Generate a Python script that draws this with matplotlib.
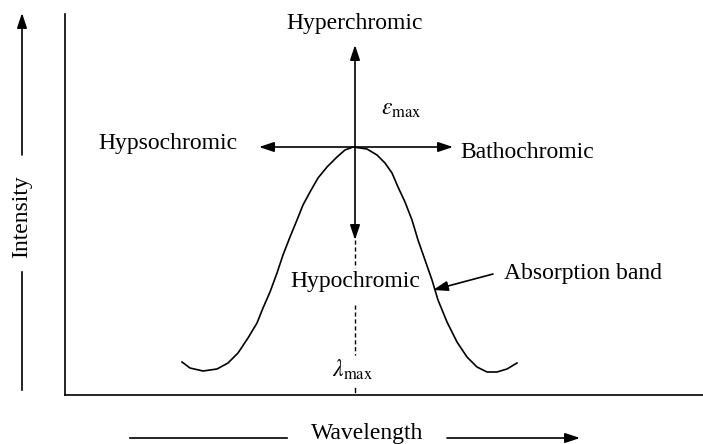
import numpy as np
import matplotlib
matplotlib.use("Agg")
import matplotlib.pyplot as plt

plt.rcParams['font.family'] = ['Liberation Serif', 'DejaVu Serif']
plt.rcParams['mathtext.fontset'] = 'stix'

# absorption band (arbitrary units)
wl = [117, 125, 138, 152, 163, 173, 183, 192, 198, 205, 212, 218, 225,
      232, 238, 245, 253, 262, 272, 280, 288,
      302, 312, 320, 327, 333, 340, 347, 353, 360, 367, 373, 382, 392,
      402, 412, 422, 432, 442, 452]
inten = [33, 27, 24, 26, 32, 42, 57, 72, 87, 103, 122, 140, 158,
         175, 190, 203, 217, 228, 238, 245, 248,
         246, 240, 232, 222, 208, 193, 175, 155, 135, 115, 95, 73, 53,
         38, 28, 23, 23, 26, 32]
lam_max = 290
eps_max = 248

fs = 17
ink = 'black'

fig = plt.figure(figsize=(7.03, 4.44), dpi=100)
ax = fig.add_axes([65/703, 49/444, 638/703, 381/444])
ax.set_xlim(0, 638)
ax.set_ylim(0, 381)
ax.spines['top'].set_visible(False)
ax.spines['right'].set_visible(False)
ax.spines['left'].set_linewidth(1.2)
ax.spines['bottom'].set_linewidth(1.2)
ax.set_xticks([])
ax.set_yticks([])

ax.plot(wl, inten, color=ink, lw=1.2, solid_joinstyle='round')

arr = dict(arrowstyle='-|>,head_length=0.9,head_width=0.3', color=ink,
           lw=1.2, shrinkA=0, shrinkB=0, mutation_scale=10)

# cross of arrows at the band maximum
ax.annotate('', xy=(lam_max, 350), xytext=(lam_max, eps_max), arrowprops=arr)
ax.annotate('', xy=(lam_max, 155), xytext=(lam_max, eps_max), arrowprops=arr)
ax.annotate('', xy=(194, eps_max), xytext=(lam_max, eps_max), arrowprops=arr)
ax.annotate('', xy=(388, eps_max), xytext=(lam_max, eps_max), arrowprops=arr)

# dashed drop line to lambda max
ax.plot([lam_max, lam_max], [155, 127], color=ink, lw=1.0, ls=(0, (3, 2)))
ax.plot([lam_max, lam_max], [90, 40], color=ink, lw=1.0, ls=(0, (3, 2)))
ax.plot([lam_max, lam_max], [7, 3], color=ink, lw=1.0)

ax.text(lam_max, 372, 'Hyperchromic', ha='center', va='center', fontsize=fs)
ax.text(336, 285, r'$\varepsilon_{\rm max}$', ha='center', va='center', fontsize=fs)
ax.text(103, 252, 'Hypsochromic', ha='center', va='center', fontsize=fs)
ax.text(462, 243, 'Bathochromic', ha='center', va='center', fontsize=fs)
ax.text(lam_max, 114, 'Hypochromic', ha='center', va='center', fontsize=fs)
ax.text(518, 121, 'Absorption band', ha='center', va='center', fontsize=fs)
ax.text(288, 25, r'$\lambda_{\rm max}$', ha='center', va='center', fontsize=fs)
ax.annotate('', xy=(368, 105), xytext=(428, 121), arrowprops=arr)

# axis labels with arrows outside the frame
ax.text(302, -38, 'Wavelength', ha='center', va='center', fontsize=fs, clip_on=False)
ax.plot([65, 222], [-43, -43], color=ink, lw=1.2, clip_on=False)
ax.annotate('', xy=(515, -43), xytext=(382, -43), arrowprops=arr, annotation_clip=False)

ax.text(-43, 178, 'Intensity', ha='center', va='center', rotation=90, fontsize=fs, clip_on=False)
ax.plot([-43, -43], [5, 123], color=ink, lw=1.2, clip_on=False)
ax.annotate('', xy=(-43, 382), xytext=(-43, 240), arrowprops=arr, annotation_clip=False)

plt.savefig('out.png', dpi=100)
